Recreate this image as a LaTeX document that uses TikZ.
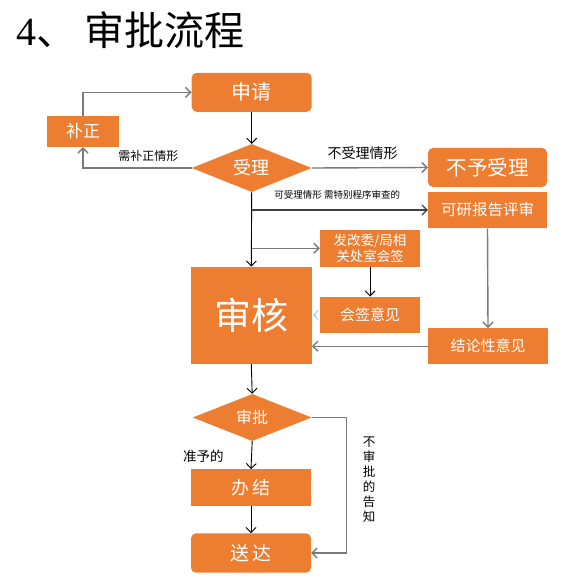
\documentclass[tikz,border=0pt]{standalone}
\usepackage{fontspec}
\setmainfont{Liberation Serif}
\newfontfamily\cjk{Noto Sans CJK SC}
\usetikzlibrary{shapes.geometric,arrows.meta}
\definecolor{org}{HTML}{ED7D31}
\definecolor{gline}{HTML}{7A7A7A}
\definecolor{lblue}{HTML}{9DC3E6}
\tikzset{
  box/.style={fill=org,draw=none,inner sep=0pt,text=white,font=\cjk,align=center},
  rbox/.style={box,rounded corners=5pt},
  dia/.style={box,diamond,aspect=2.5},
  arr/.style={-{Straight Barb[length=5pt,width=10pt]},line width=0.9pt},
  bl/.style={arr,draw=black},
  gl/.style={arr,draw=gline,line width=1.4pt},
  gplain/.style={draw=gline,line width=1.4pt},
  lab/.style={font=\cjk,inner sep=0pt,text=black},
}
\begin{document}
\begin{tikzpicture}[x=1pt,y=-1pt]
\useasboundingbox (0,0) rectangle (574,580);
% title
\node[anchor=west,inner sep=0pt] (title) at (16,30) {\fontsize{40}{42}\selectfont 4\cjk 、\hspace{8pt}审批流程};
% nodes
\node[rbox,minimum width=120pt,minimum height=39pt,font=\cjk\fontsize{20}{21}\selectfont] (sq) at (251.7,92.3) {申请};
\node[box,minimum width=72pt,minimum height=31pt,font=\cjk\fontsize{17}{18}\selectfont] (bz) at (83,131.5) {补正};
\node[dia,minimum width=120pt,minimum height=48pt,font=\cjk\fontsize{18}{19}\selectfont] (sl) at (251.7,168) {受理};
\node[rbox,minimum width=119pt,minimum height=39pt,font=\cjk\fontsize{20.5}{21}\selectfont] (byl) at (487.5,167.5) {不予受理};
\node[box,minimum width=119pt,minimum height=36.6pt,font=\cjk\fontsize{15.5}{17}\selectfont] (kybg) at (487.5,210) {可研报告评审};
\node[box,minimum width=120.7pt,minimum height=97.3pt,font=\cjk\fontsize{37}{40}\selectfont] (sh) at (251.3,315.3) {审核};
\node[box,minimum width=100pt,minimum height=36.7pt,font=\cjk\fontsize{13.5}{16}\selectfont] (fgw) at (370,248.3) {发改委/局相\\关处室会签};
\node[box,minimum width=100pt,minimum height=36.6pt,font=\cjk\fontsize{15}{16}\selectfont] (hqyj) at (370,315) {会签意见};
\node[box,minimum width=119.4pt,minimum height=35.7pt,font=\cjk\fontsize{15}{16}\selectfont] (jlx) at (488,346.2) {结论性意见};
\node[dia,minimum width=119pt,minimum height=47pt,font=\cjk\fontsize{16}{17}\selectfont] (sp) at (252.2,417.5) {审批};
\node[box,minimum width=120pt,minimum height=36.4pt,font=\cjk\fontsize{18}{19}\selectfont] (bj) at (251,487.5) {办\,结};
\node[rbox,minimum width=120pt,minimum height=39.4pt,font=\cjk\fontsize{19}{20}\selectfont] (sd) at (251,553) {送\,达};
% labels
\node[lab,font=\cjk\fontsize{12}{13}\selectfont] (l1) at (148.3,155.7) {需补正情形};
\node[lab,font=\cjk\fontsize{14}{15}\selectfont] (l2) at (362.7,153.3) {不受理情形};
\node[lab,font=\cjk\fontsize{9.5}{10}\selectfont] (l3) at (337.3,195) {可受理情形 需特别程序审查的};
\node[lab,font=\cjk\fontsize{13.5}{14}\selectfont] (l4) at (203.3,456.7) {准予的};
\node[lab,font=\cjk\fontsize{12.5}{15}\selectfont,align=center] (l5) at (369,480) {不\\审\\批\\的\\告\\知};
% coordinates
\coordinate (j1) at (sl.south |- kybg.west);
\coordinate (j2) at (sl.south |- fgw.west);
\coordinate (c1) at (346.7,417.5);
% connectors
\draw[bl] (sq.south) -- (sl.north);
\draw[gl] (bz.north) |- (sq.west);
\draw[gl] (sl.west) -| (bz.south);
\draw[gl] (sl.east) -- (byl.west);
\draw[bl] (sl.south) -- (sh.north);
\draw[arr,draw=black!75,line width=1.2pt] (j1) -- (kybg.west);
\draw[gl] (j2) -- (fgw.west);
\draw[bl] (fgw.south) -- (hqyj.north);
\draw[-{Straight Barb[length=4pt,width=9pt]},draw=lblue,line width=0.8pt] ([xshift=-4pt]hqyj.west) -- ([xshift=1.5pt]sh.east |- hqyj.west);
\draw[gl] (kybg.south) -- (jlx.north);
\draw[gl] (jlx.west) -- (sh.east |- jlx.west);
\draw[bl] (sh.south) -- (sp.north);
\draw[bl] (sp.south) -- (bj.north);
\draw[bl] (bj.south) -- (sd.north);
\draw[gplain] (sp.east) -- (c1);
\draw[gl] (c1) |- (sd.east);
\end{tikzpicture}
\end{document}
